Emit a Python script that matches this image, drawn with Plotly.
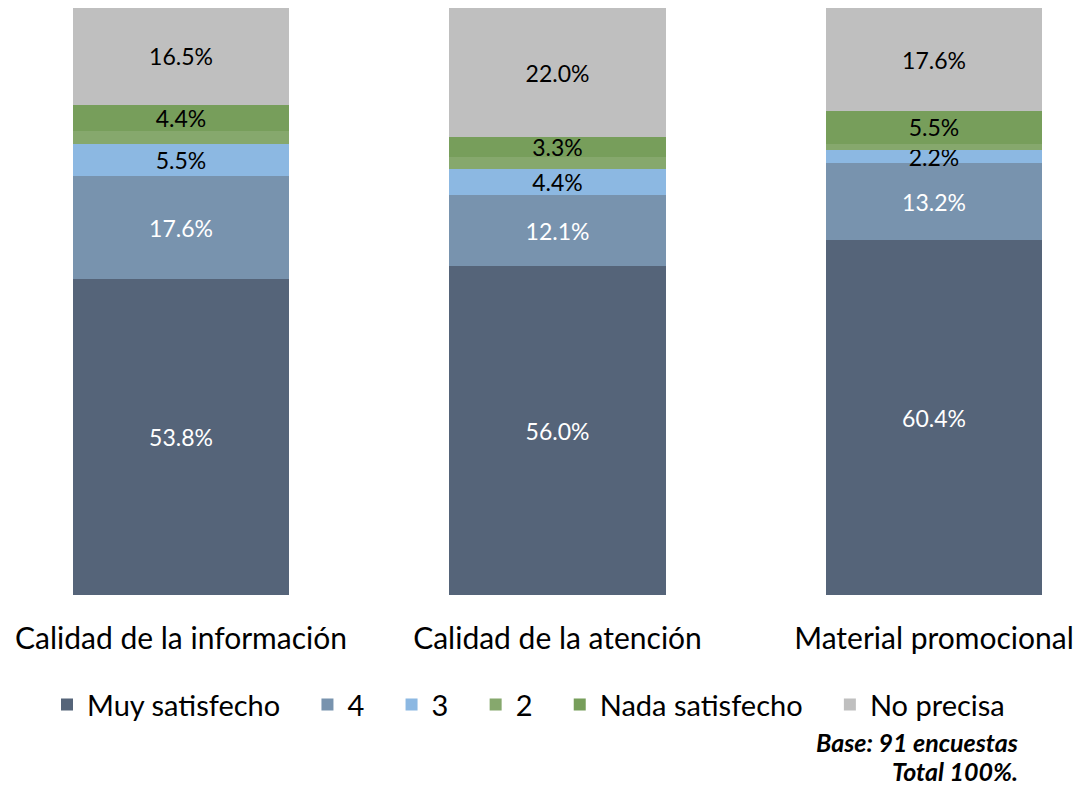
import plotly.graph_objects as go

categories = ["Calidad de la información", "Calidad de la atención", "Material promocional"]
series_names = ["Muy satisfecho", "4", "3", "2", "Nada satisfecho", "No precisa"]
muy_satisfecho = [53.8, 56.0, 60.4]
cuatro = [17.6, 12.1, 13.2]
tres = [5.5, 4.4, 2.2]
dos = [2.2, 2.2, 1.1]
nada_satisfecho = [4.4, 3.3, 5.5]
no_precisa = [16.5, 22.0, 17.6]

values = [muy_satisfecho, cuatro, tres, dos, nada_satisfecho, no_precisa]
colors = ["#556479", "#7893ae", "#8cb8e2", "#86a86d", "#779e5b", "#bfbfbf"]
text_colors = ["white", "white", "black", "black", "black", "black"]
show_labels = [True, True, True, False, True, True]

FONT = "Lato"
PAD = "\u00a0" * 3

fig = go.Figure()
for name, vals, col, tcol, show in zip(series_names, values, colors, text_colors, show_labels):
    fig.add_trace(go.Bar(
        x=categories, y=vals, name=name + PAD,
        marker=dict(color=col, line=dict(width=0)),
        text=[f"{v:.1f}%" for v in vals] if show else None,
        textposition="inside" if show else "none",
        insidetextanchor="middle",
        constraintext="none",
        textangle=0,
        textfont=dict(color=tcol, size=23, family=FONT),
        width=0.574,
        hoverinfo="skip",
    ))

W, H = 1081, 777
fig.update_layout(
    barmode="stack",
    width=W, height=H,
    margin=dict(l=0, r=0, t=0, b=190),
    paper_bgcolor="white", plot_bgcolor="white",
    font=dict(family=FONT, color="black"),
    xaxis=dict(range=[-0.4595, 2.4117], showgrid=False, zeroline=False, showline=False,
               ticks="", tickfont=dict(size=30, color="black", family=FONT),
               ticklabelstandoff=23),
    yaxis=dict(range=[0, 100], visible=False),
    showlegend=True,
    legend=dict(orientation="h", x=(540 - 8) / W, xanchor="center", y=-0.187, yanchor="middle",
                font=dict(size=29, color="black", family=FONT), traceorder="normal",
                itemwidth=30),
    annotations=[
        dict(text="<b><i>Base: 91 encuestas</i></b>", xref="paper", yref="paper",
             x=(1020 - 8) / W, y=(587 - 734) / 587, xanchor="right", yanchor="middle",
             showarrow=False, font=dict(size=25, color="black", family=FONT)),
        dict(text="<b><i>Total 100%.</i></b>", xref="paper", yref="paper",
             x=(1020 - 8) / W, y=(587 - 763) / 587, xanchor="right", yanchor="middle",
             showarrow=False, font=dict(size=25, color="black", family=FONT)),
    ],
)

fig.write_html("out.html")
